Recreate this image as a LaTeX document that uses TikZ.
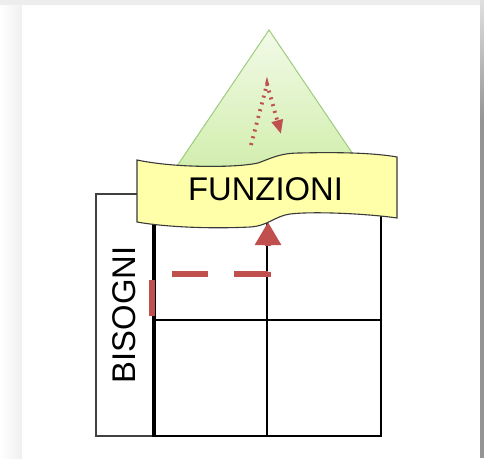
\documentclass[tikz,border=0pt]{standalone}
\usepackage{fontspec}
\setmainfont{Liberation Sans}
\usetikzlibrary{arrows.meta}
\definecolor{redarrow}{HTML}{C0504D}
\definecolor{trifill1}{HTML}{F2FAE8}
\definecolor{trifill2}{HTML}{D2EEAE}
\definecolor{triline}{HTML}{9CCC7E}
\definecolor{bannerfill}{HTML}{FFFFAA}
\definecolor{bannerline}{HTML}{3A3A3A}
\tikzset{
  gridline/.style={draw=black, line width=2pt},
  sidebox/.style={draw=black!75, line width=1.1pt},
  bigtext/.style={font=\fontsize{32.8}{36}\selectfont, text=black, inner sep=0pt},
  flowarrow/.style={draw=redarrow, line width=6pt, dash pattern=on 36pt off 26pt,
    -{Triangle[width=25pt,length=23pt]}},
  dotarrow/.style={draw=redarrow, line width=3.8pt, dash pattern=on 2pt off 5pt,
    -{Triangle[width=11pt,length=14pt]}},
}
\begin{document}
\begin{tikzpicture}[x=1pt,y=-1pt]
\useasboundingbox (0,0) rectangle (484,458);
% page background
\fill[black!7] (0,0) rectangle (484,458);
\shade[left color=white, right color=black!6] (0,5) rectangle (22,458);
\fill[white] (22,5) rectangle (480,458);
\shade[top color=black!12, bottom color=black!42] (480,0) rectangle (484,120);
\fill[black!42] (480,120) rectangle (484,458);

% triangle (pyramid)
\coordinate (apex) at (269,30);
\coordinate (bl) at (177,166);
\coordinate (br) at (361,166);
\shade[top color=trifill1, bottom color=trifill2, draw=triline, line width=1pt]
  (apex) -- (br) -- (bl) -- cycle;

% grid
\coordinate (sbTL) at (96,194);
\coordinate (sbBR) at (154,436);
\draw[sidebox] (sbTL) rectangle (sbBR);
\coordinate (gTL) at (154,194);
\coordinate (gBR) at (381,436);
\coordinate (gTM) at (267,194);
\coordinate (gBM) at (267,436);
\coordinate (gML) at (154,320);
\coordinate (gMR) at (381,320);
\draw[gridline] (gTL) rectangle (gBR);
\draw[gridline] (gTM) -- (gBM);
\draw[gridline] (gML) -- (gMR);
\draw[black, line width=3.5pt] (154,200) -- (154,437);

% BISOGNI label
\node[bigtext, rotate=90] (bisogni) at (124.5,315) {BISOGNI};

% red dashed flow arrow
\coordinate (fstart) at (152,316);
\coordinate (fcorner1) at (152,274);
\coordinate (fcorner2) at (268,274);
\coordinate (fend) at (268,222);
\draw[flowarrow] (fstart) -- (fcorner1) -- (fcorner2) -- (fend);

% dotted arrow in the triangle
\coordinate (dstart) at (251,145);
\coordinate (dtop) at (267,84);
\coordinate (dend) at (281,134);
\draw[dotarrow] (dstart) -- (dtop) -- (dend);

% banner
\filldraw[fill=bannerfill, draw=bannerline, line width=1.1pt]
  (137,160) .. controls (175,168) and (235,168) .. (258,163)
  .. controls (272,158) and (280,153) .. (300,153)
  .. controls (340,152) and (375,153) .. (397,157)
  -- (397,218)
  .. controls (370,214) and (315,211) .. (290,214)
  .. controls (275,216) and (268,226) .. (250,227)
  .. controls (210,229) and (165,227) .. (137,222) -- cycle;
\node[bigtext] (funzioni) at (265.5,189.5) {FUNZIONI};
\end{tikzpicture}
\end{document}
